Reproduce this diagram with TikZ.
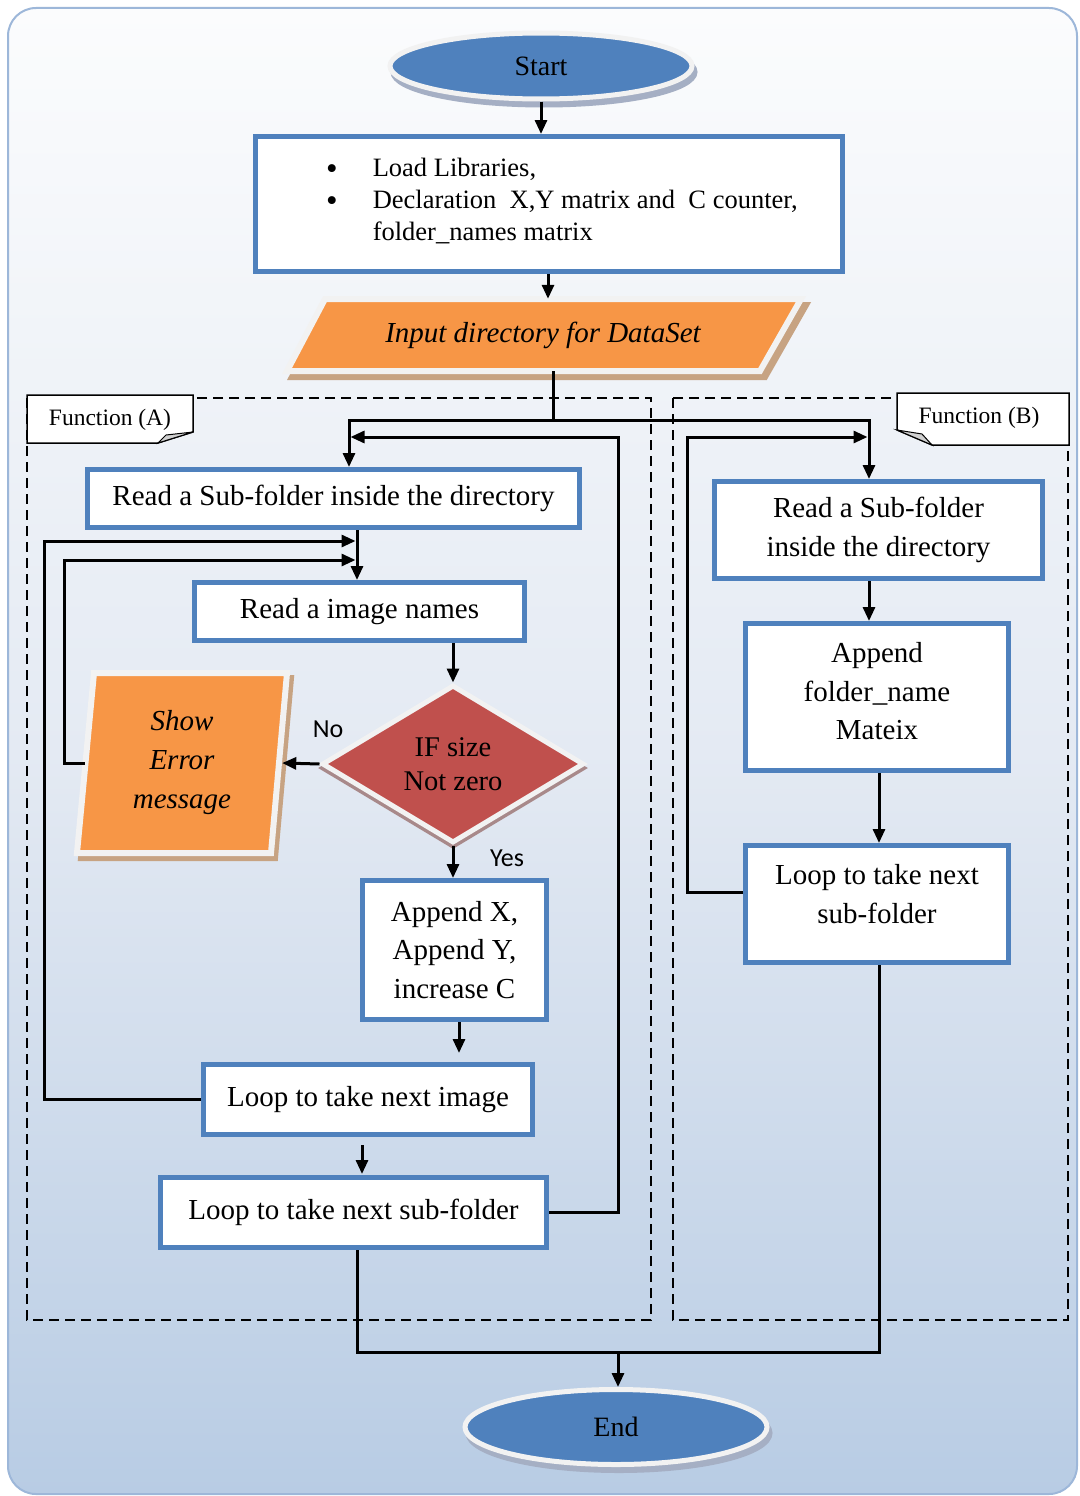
\documentclass[tikz,border=0pt]{standalone}
\usepackage{fontspec}
\setmainfont{Liberation Serif}
\newfontfamily\lblsans{Carlito}
\usetikzlibrary{arrows.meta,shapes.geometric,shadows,calc}
\definecolor{boxblue}{HTML}{4F81BD}
\definecolor{inorange}{HTML}{F79646}
\definecolor{decred}{HTML}{C0504D}
\definecolor{rim}{HTML}{F2F2F2}
\definecolor{brshadow}{HTML}{C7A382}
\definecolor{ellshadow}{HTML}{A5AFC4}
\definecolor{redshadow}{HTML}{A8898A}
\definecolor{bgtop}{HTML}{FBFCFD}
\definecolor{bgmid}{HTML}{E4EAF3}
\definecolor{bgbot}{HTML}{B8CCE4}
\definecolor{bgedge}{HTML}{9DB7D9}
\definecolor{foldgray}{HTML}{D0D0D0}
\newcommand{\listdot}{\raisebox{-3pt}{\fontsize{33}{32}\selectfont\textbullet}}
\begin{document}
\begin{tikzpicture}[x=1pt,y=-1pt,
  box/.style={draw=boxblue, line width=5pt, fill=white, inner sep=0pt, align=center,
    font=\fontsize{29}{38.5}\selectfont},
  terminal/.style={ellipse, fill=boxblue, draw=rim, line width=5pt, inner sep=0pt,
    font=\fontsize{28}{30}\selectfont,
    general shadow={shadow xshift=3pt, shadow yshift=-6pt, fill=ellshadow, draw=ellshadow, line width=5pt}},
  iofill/.style={fill=inorange, draw=rim, line width=6pt, line join=miter},
  ioshadow/.style={fill=brshadow, draw=brshadow, line width=6pt},
  iotext/.style={inner sep=0pt, align=center, font=\fontsize{29}{39}\selectfont\itshape},
  decision/.style={diamond, fill=decred, draw=rim, line width=5pt, inner sep=0pt, aspect=1.66,
    align=center, font=\fontsize{28.5}{34}\selectfont,
    general shadow={shadow xshift=0pt, shadow yshift=-4pt, fill=redshadow, draw=redshadow, line width=5pt}},
  conn/.style={line width=3pt},
  arr/.style={conn, -{Triangle[length=14pt,width=12pt]}},
  region/.style={line width=2.5pt, dash pattern=on 10pt off 6pt},
  tag/.style={fill=white, draw=black, line width=1.5pt},
  tagtext/.style={inner sep=0pt, font=\fontsize{23.5}{26}\selectfont},
  lbl/.style={inner sep=0pt, font=\lblsans\fontsize{26}{28}\selectfont}
]
\useasboundingbox (0,0) rectangle (1079,1496);

% page background
\path[draw=bgedge, line width=2pt, rounded corners=28pt,
  top color=bgtop, bottom color=bgbot, middle color=bgmid] (8,8) rectangle (1077,1494);

% dashed function regions
\draw[region] (27,398) rectangle (651,1320);
\draw[region] (673,398) rectangle (1068,1320);

% function tags with folded corners
\draw[tag] (27,395) -- (193,395) -- (193,432) -- (158,443) -- (27,443) -- cycle;
\draw[fill=foldgray, line width=1pt] (158,443) -- (166,435) -- (193,432) -- cycle;
\node[tagtext] (tagA) at (110,420) {Function (A)};
\draw[tag] (897,393) -- (1069,393) -- (1069,445) -- (932,445) -- (897,430) -- cycle;
\draw[fill=foldgray, line width=1pt] (897,430) -- (922,434) -- (932,445) -- cycle;
\node[tagtext] (tagB) at (979,418) {Function (B)};

% start and initialisation
\node[terminal, minimum width=302pt, minimum height=66pt] (start) at (541,66) {Start};
\node[box, minimum width=587pt, minimum height=135pt] (init) at (549,204) {};
\node[anchor=west, inner sep=0pt, font=\fontsize{26.5}{32}\selectfont] (inittxt) at (326,202)
  {\begin{tabular}{@{}l@{\hspace{35pt}}l@{}}
    \listdot & Load Libraries,\\
    \listdot & Declaration\ \ X,Y matrix and\ \ C counter,\\
             & folder\_names matrix
   \end{tabular}};

% input parallelogram
\path[ioshadow] (330,305) -- (806,305) -- (765,377) -- (292,377) -- cycle;
\path[iofill] (325,299) -- (801,299) -- (760,371) -- (287,371) -- cycle;
\node[iotext, minimum width=474pt, minimum height=72pt] (inp) at (543,335) {Input directory for DataSet};

% function (A)
\node[box, minimum width=492pt, minimum height=58pt] (a1) at (333.5,498.5) {Read a Sub-folder inside the directory};
\node[box, minimum width=330pt, minimum height=58pt] (a2) at (359.5,611.5) {Read a image names};
\node[decision, minimum width=262pt, minimum height=158pt] (dia) at (453,764) {IF size\\Not zero};
\path[ioshadow] (98,678) -- (291,678) -- (275,858) -- (81,858) -- cycle;
\path[iofill] (94,673) -- (287,673) -- (271,853) -- (77,853) -- cycle;
\node[iotext, minimum width=194pt, minimum height=180pt] (err) at (182,763) {Show\\Error\\message};
\node[box, minimum width=184pt, minimum height=139pt] (a3) at (454.5,950) {Append X,\\Append Y,\\increase C};
\node[box, minimum width=329pt, minimum height=70pt] (a4) at (368,1099.5) {Loop to take next image};
\node[box, minimum width=386pt, minimum height=70pt] (a5) at (353.5,1212.5) {Loop to take next sub-folder};
\node[lbl] (nolbl) at (328,729) {No};
\node[lbl] (yeslbl) at (507,858) {Yes};

% function (B)
\node[box, minimum width=328pt, minimum height=97pt] (b1) at (878.5,530) {Read a Sub-folder\\inside the directory};
\node[box, minimum width=263pt, minimum height=147pt] (b2) at (877,697) {Append\\folder\_name\\Mateix\\[-26.5pt]};
\node[box, minimum width=263pt, minimum height=117pt] (b3) at (877,904) {Loop to take next\\sub-folder\\[-18pt]};

\node[terminal, minimum width=302pt, minimum height=75pt] (end) at (616,1427) {End};

% junction points
\coordinate (split) at (553,420);
\coordinate (a1in) at ([xshift=15.5pt]a1.north);
\coordinate (b1in) at ([xshift=-9.5pt]b1.north);
\coordinate (a2in) at ([xshift=-2.5pt]a2.north);
\coordinate (aret) at (618,437);
\coordinate (bret) at (687,437);
\coordinate (oret) at (44,541);
\coordinate (iret) at (64,560);
\coordinate (a4in) at (459,1053);
\coordinate (a5in) at (362,1174);
\coordinate (a4out) at ([yshift=-8pt]a4.south);
\coordinate (b3col) at (879,800);
\coordinate (merge) at (618,1352);

% connectors
\draw[arr] (start.south) -- (start.south |- init.north);
\draw[arr] ([xshift=-1pt]init.south) -- ([xshift=-1pt]init.south |- inp.north);
\draw[conn] (inp.south -| split) -- (split);
\draw[arr] (split) -| (a1in);
\draw[arr] (split) -| (b1in);
\draw[arr] (a5.east) -| (aret) -- ([xshift=1.5pt]aret -| a1in);
\draw[arr] (a1.south -| a2in) -- (a2in);
\draw[arr] (a4.west) -| (oret) -- ([xshift=-1.5pt]oret -| a2in);
\draw[arr] (err.west) -| (iret) -- ([xshift=-1.5pt]iret -| a2in);
\draw[arr] (a2.south -| dia.north) -- (dia.north);
\draw[arr] (dia.west) -- ([xshift=3pt]err.east);
\draw[arr] (dia.south) -- (dia.south |- a3.north);
\draw[arr] (a3.south -| a4in) -- (a4in);
\draw[arr] (a4out -| a5in) -- (a5in);
\draw[arr] (b1.south -| b1in) -- (b2.north -| b1in);
\draw[arr] (b2.south -| b3col) -- (b3.north -| b3col);
\draw[arr] ([yshift=12pt]b3.west) -| (bret) -- ([xshift=-1.5pt]bret -| b1in);
\draw[conn] ([xshift=3.5pt]a5.south) |- (merge);
\draw[conn] ([xshift=2pt]b3.south) |- (merge);
\draw[arr] (merge) -- (merge |- end.north);
\end{tikzpicture}
\end{document}
